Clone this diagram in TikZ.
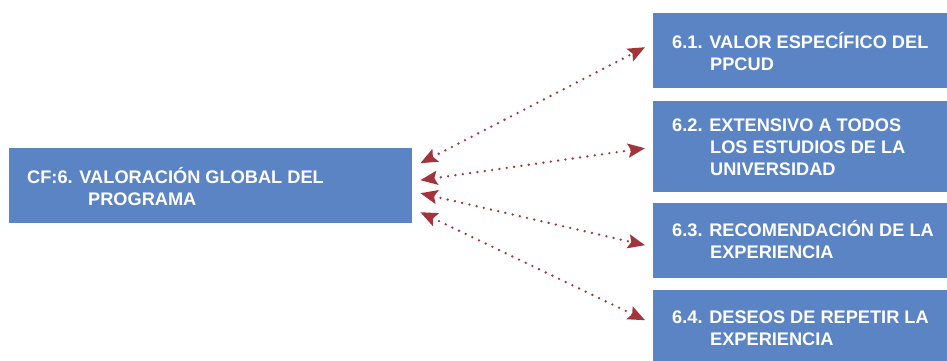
\documentclass[tikz,border=0pt]{standalone}
\usepackage{fontspec}
\setmainfont{Liberation Sans}
\usetikzlibrary{arrows.meta}
\definecolor{boxblue}{RGB}{91,132,196}
\definecolor{arrred}{RGB}{164,52,60}
\begin{document}
\begin{tikzpicture}[x=1pt,y=1pt,
  box/.style={fill=boxblue,draw=none,inner sep=0pt,anchor=north west},
  lbl/.style={text=white,font=\fontsize{18.2}{22}\selectfont\bfseries,align=left,inner sep=0pt,anchor=base west},
  conn/.style={arrred,line width=2.6pt,line cap=round,dash pattern=on 0pt off 7.4pt,
    {Stealth[length=17pt,width=14pt,inset=3pt]}-{Stealth[length=17pt,width=14pt,inset=3pt]}}]
\useasboundingbox (0,0) rectangle (947,360);
\fill[white] (0,0) rectangle (947,360);
% boxes
\node[box,minimum width=403pt,minimum height=75pt] (L) at (9,212) {};
\node[box,minimum width=300pt,minimum height=75pt] (R1) at (653,347) {};
\node[box,minimum width=300pt,minimum height=91pt] (R2) at (653,259) {};
\node[box,minimum width=300pt,minimum height=75pt] (R3) at (653,157) {};
\node[box,minimum width=300pt,minimum height=76pt] (R4) at (653,70) {};
% labels (anchor at baseline of last line)
\node[lbl] (tL) at (27,155) {CF:6. VALORACIÓN GLOBAL DEL\\\hspace*{61pt}PROGRAMA};
\node[lbl] (t1) at (672,290) {6.1. VALOR ESPECÍFICO DEL\\\hspace*{38pt}PPCUD};
\node[lbl] (t2) at (672,185) {6.2. EXTENSIVO A TODOS\\\hspace*{38pt}LOS ESTUDIOS DE LA\\\hspace*{38pt}UNIVERSIDAD};
\node[lbl] (t3) at (672,102) {6.3. RECOMENDACIÓN DE LA\\\hspace*{38pt}EXPERIENCIA};
\node[lbl] (t4) at (672,15) {6.4. DESEOS DE REPETIR LA\\\hspace*{38pt}EXPERIENCIA};
% connectors
\draw[conn] ([xshift=8pt,yshift=22.5pt]L.east) -- ([xshift=-8pt,yshift=3.5pt]R1.west);
\draw[conn] ([xshift=8pt,yshift=5.5pt]L.east) -- ([xshift=-8pt,yshift=-1.5pt]R2.west);
\draw[conn] ([xshift=8pt,yshift=-7.5pt]L.east) -- ([xshift=-8pt,yshift=-4.5pt]R3.west);
\draw[conn] ([xshift=8pt,yshift=-26.5pt]L.east) -- ([xshift=-8pt,yshift=8pt]R4.west);
\end{tikzpicture}
\end{document}
